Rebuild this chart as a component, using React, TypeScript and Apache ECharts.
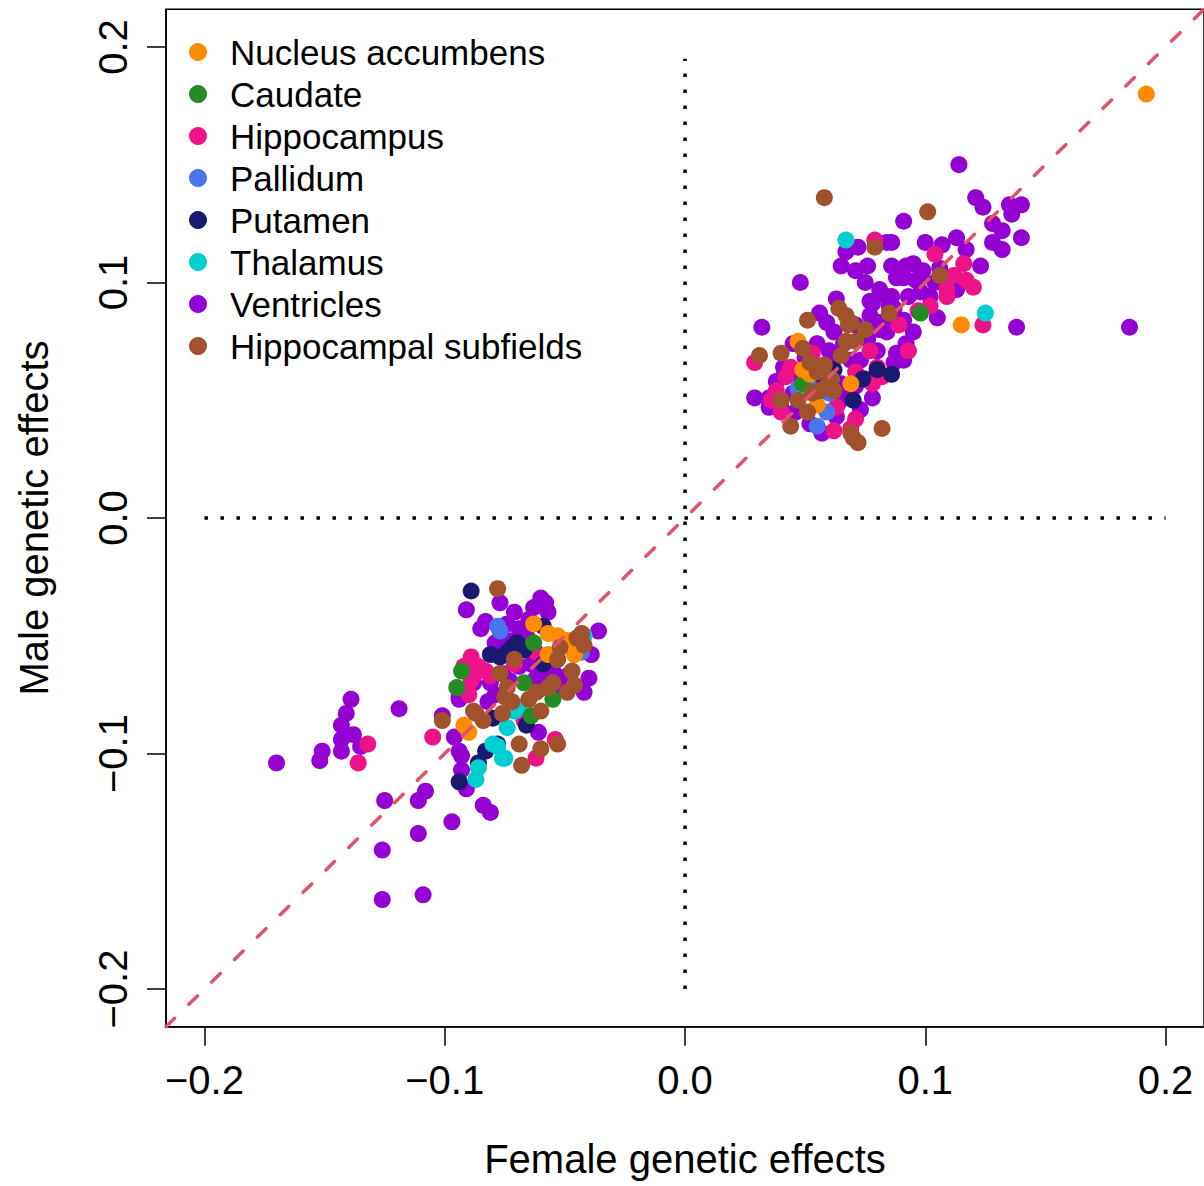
import React, { useEffect, useRef } from "react";
import * as echarts from "echarts";

const legendOrder = [
  "Nucleus accumbens",
  "Caudate",
  "Hippocampus",
  "Pallidum",
  "Putamen",
  "Thalamus",
  "Ventricles",
  "Hippocampal subfields",
];

const colorMap: Record<string, string> = {
  "Nucleus accumbens": "#FF8C00",
  Caudate: "#228B22",
  Hippocampus: "#EE1289",
  Pallidum: "#4876EE",
  Putamen: "#191970",
  Thalamus: "#00CED1",
  Ventricles: "#9400D3",
  "Hippocampal subfields": "#A0522D",
};

// draw order (later = on top)
const drawOrder = [
  "Ventricles",
  "Hippocampus",
  "Putamen",
  "Pallidum",
  "Thalamus",
  "Caudate",
  "Nucleus accumbens",
  "Hippocampal subfields",
];

const tickValues = [-0.2, -0.1, 0.0, 0.1, 0.2];

const nucleusAccumbens = [
  [0.192, 0.18], [0.115, 0.082], [0.047, 0.075], [0.069, 0.057], [0.049, 0.063], [0.055, 0.048], [0.052, 0.061],
  [-0.063, -0.045], [-0.057, -0.049], [-0.053, -0.05], [-0.049, -0.052], [-0.057, -0.058], [-0.053, -0.06],
  [-0.046, -0.058], [-0.092, -0.088], [-0.09, -0.091],
];

const caudate = [
  [0.098, 0.087], [0.049, 0.057],
  [-0.063, -0.053], [-0.093, -0.065], [-0.095, -0.072], [-0.067, -0.07], [-0.055, -0.077], [-0.064, -0.084],
];

const hippocampus = [
  [0.079, 0.118], [0.104, 0.112], [0.116, 0.108], [0.112, 0.103], [0.117, 0.101], [0.12, 0.098], [0.109, 0.097],
  [0.109, 0.094], [0.102, 0.09], [0.097, 0.088], [0.089, 0.082], [0.124, 0.082], [0.093, 0.071], [0.029, 0.066],
  [0.077, 0.071], [0.071, 0.062], [0.08, 0.064], [0.078, 0.057], [0.082, 0.06], [0.063, 0.047], [0.071, 0.042],
  [0.062, 0.037], [0.069, 0.038], [0.038, 0.054], [0.042, 0.06], [0.04, 0.045], [0.053, 0.07], [0.044, 0.064],
  [0.036, 0.05],
  [-0.089, -0.059], [-0.092, -0.063], [-0.088, -0.067], [-0.09, -0.075], [-0.089, -0.069], [-0.083, -0.065],
  [-0.081, -0.067], [-0.062, -0.057], [-0.071, -0.062], [-0.132, -0.096], [-0.136, -0.104], [-0.105, -0.093],
  [-0.062, -0.102], [-0.054, -0.094], [-0.067, -0.086], [-0.086, -0.063],
];

const pallidum = [
  [0.047, 0.055], [0.059, 0.045], [0.055, 0.039], [0.06, 0.053], [0.051, 0.057],
  [-0.078, -0.046], [-0.077, -0.048], [-0.043, -0.057], [-0.045, -0.054],
];

const putamen = [
  [0.062, 0.063], [0.074, 0.059], [0.086, 0.061], [0.07, 0.05], [0.08, 0.063], [0.057, 0.061],
  [-0.089, -0.031], [-0.081, -0.058], [-0.077, -0.059], [-0.072, -0.055], [-0.067, -0.056], [-0.059, -0.046],
  [-0.059, -0.062], [-0.07, -0.053], [-0.066, -0.088], [-0.083, -0.099], [-0.086, -0.104], [-0.078, -0.096],
  [-0.094, -0.112], [-0.08, -0.085], [-0.074, -0.057],
];

const thalamus = [
  [0.067, 0.118], [0.125, 0.087], [0.05, 0.054],
  [-0.08, -0.096], [-0.075, -0.102], [-0.086, -0.106], [-0.087, -0.111], [-0.071, -0.082], [-0.074, -0.089],
  [-0.069, -0.08], [-0.076, -0.102], [-0.042, -0.05], [-0.078, -0.097],
];

const ventricles = [
  [0.114, 0.15], [0.121, 0.136], [0.124, 0.132], [0.135, 0.133], [0.14, 0.133], [0.136, 0.129], [0.128, 0.125],
  [0.132, 0.122], [0.14, 0.119], [0.128, 0.117], [0.132, 0.114], [0.091, 0.126], [0.1, 0.117], [0.107, 0.116],
  [0.113, 0.119], [0.117, 0.114], [0.123, 0.107], [0.138, 0.081], [0.185, 0.081], [0.048, 0.1], [0.063, 0.093],
  [0.084, 0.117], [0.086, 0.117], [0.067, 0.113], [0.072, 0.115], [0.065, 0.107], [0.076, 0.107], [0.071, 0.105],
  [0.075, 0.1], [0.081, 0.097], [0.086, 0.107], [0.092, 0.107], [0.095, 0.108], [0.099, 0.105], [0.088, 0.102],
  [0.091, 0.102], [0.096, 0.101], [0.098, 0.102], [0.104, 0.1], [0.106, 0.106], [0.113, 0.097], [0.077, 0.092],
  [0.056, 0.087], [0.059, 0.083], [0.032, 0.081], [0.084, 0.094], [0.086, 0.094], [0.093, 0.094], [0.085, 0.09],
  [0.091, 0.084], [0.086, 0.084], [0.081, 0.08], [0.105, 0.085], [0.095, 0.079], [0.078, 0.091], [0.081, 0.083],
  [0.084, 0.079], [0.092, 0.074], [0.088, 0.07], [0.091, 0.067], [0.087, 0.066], [0.08, 0.071], [0.073, 0.067],
  [0.069, 0.067], [0.045, 0.074], [0.041, 0.064], [0.041, 0.06], [0.029, 0.051], [0.035, 0.047], [0.04, 0.047],
  [0.046, 0.045], [0.052, 0.04], [0.057, 0.036], [0.078, 0.051], [0.064, 0.049], [0.063, 0.043], [0.075, 0.059],
  [0.071, 0.056], [0.035, 0.051], [0.06, 0.071], [0.055, 0.074], [0.05, 0.068], [0.058, 0.06], [0.065, 0.057],
  [0.048, 0.06], [0.038, 0.058], [0.068, 0.052], [0.073, 0.046], [0.052, 0.057], [0.045, 0.053], [0.061, 0.066],
  [0.066, 0.074], [0.076, 0.076], [0.071, 0.082], [0.062, 0.079], [0.087, 0.089], [0.098, 0.096], [0.102, 0.094],
  [0.11, 0.1], [0.077, 0.086],
  [-0.091, -0.039], [-0.139, -0.077], [-0.141, -0.083], [-0.119, -0.081], [-0.101, -0.084], [-0.094, -0.076],
  [-0.143, -0.088], [-0.17, -0.104], [-0.151, -0.099], [-0.152, -0.103], [-0.143, -0.094], [-0.143, -0.099],
  [-0.138, -0.092], [-0.135, -0.097], [-0.096, -0.093], [-0.094, -0.099], [-0.093, -0.101], [-0.093, -0.107],
  [-0.091, -0.115], [-0.125, -0.12], [-0.111, -0.12], [-0.108, -0.116], [-0.097, -0.129], [-0.084, -0.122],
  [-0.081, -0.125], [-0.111, -0.134], [-0.126, -0.141], [-0.126, -0.162], [-0.109, -0.16], [-0.061, -0.091],
  [-0.077, -0.036], [-0.071, -0.04], [-0.06, -0.034], [-0.063, -0.038], [-0.057, -0.04], [-0.083, -0.044],
  [-0.074, -0.045], [-0.069, -0.047], [-0.036, -0.048], [-0.04, -0.068], [-0.042, -0.074], [-0.069, -0.05],
  [-0.074, -0.052], [-0.079, -0.053], [-0.085, -0.047], [-0.069, -0.063], [-0.064, -0.062], [-0.076, -0.066],
  [-0.081, -0.07], [-0.088, -0.07], [-0.094, -0.077], [-0.082, -0.078], [-0.049, -0.067], [-0.051, -0.073],
  [-0.059, -0.066], [-0.061, -0.073], [-0.065, -0.043], [-0.058, -0.036], [-0.066, -0.05], [-0.062, -0.068],
  [-0.055, -0.065], [-0.039, -0.058], [-0.079, -0.075], [-0.073, -0.069],
];

const hippocampalSubfields = [
  [0.058, 0.136], [0.101, 0.13], [0.079, 0.115], [0.106, 0.103], [0.085, 0.087], [0.064, 0.089], [0.067, 0.086],
  [0.069, 0.083], [0.051, 0.084], [0.075, 0.08], [0.031, 0.069], [0.04, 0.07], [0.049, 0.072], [0.067, 0.075],
  [0.071, 0.075], [0.065, 0.069], [0.052, 0.066], [0.058, 0.065], [0.055, 0.062], [0.062, 0.054], [0.056, 0.054],
  [0.053, 0.053], [0.047, 0.05], [0.04, 0.05], [0.051, 0.045], [0.044, 0.039], [0.082, 0.038], [0.07, 0.034],
  [0.072, 0.032], [0.069, 0.036], [0.059, 0.056], [0.061, 0.059], [0.068, 0.082],
  [-0.087, -0.083], [-0.101, -0.086], [-0.078, -0.03], [-0.043, -0.049], [-0.042, -0.054], [-0.052, -0.055],
  [-0.053, -0.06], [-0.071, -0.06], [-0.077, -0.066], [-0.047, -0.065], [-0.046, -0.071], [-0.049, -0.074],
  [-0.055, -0.07], [-0.057, -0.072], [-0.062, -0.074], [-0.065, -0.077], [-0.074, -0.072], [-0.075, -0.076],
  [-0.072, -0.078], [-0.088, -0.082], [-0.076, -0.083], [-0.06, -0.082], [-0.084, -0.086], [-0.069, -0.096],
  [-0.06, -0.098], [-0.053, -0.096], [-0.068, -0.105], [-0.045, -0.051],
];

const seriesData: Record<string, number[][]> = {
  "Nucleus accumbens": nucleusAccumbens,
  Caudate: caudate,
  Hippocampus: hippocampus,
  Pallidum: pallidum,
  Putamen: putamen,
  Thalamus: thalamus,
  Ventricles: ventricles,
  "Hippocampal subfields": hippocampalSubfields,
};

const axisMin = -0.216;
const axisMax = 0.216;
const identityLine = [[axisMin, axisMin], [axisMax, axisMax]];
const vRefLine = [[0, -0.2], [0, 0.195]];
const hRefLine = [[-0.2, 0], [0.2, 0]];

const FONT = "'Liberation Sans', Arial, Helvetica, sans-serif";
const fmt = (v: number) => v.toFixed(1).replace("-", "\u2212");

export default function App() {
  const ref = useRef<HTMLDivElement>(null);
  useEffect(() => {
    const chart = echarts.init(ref.current!, null, { renderer: "svg" });
    const axisCommon = (name: string) => ({
      type: "value",
      min: axisMin,
      max: axisMax,
      name,
      nameLocation: "middle",
      nameGap: 112,
      nameTextStyle: { fontSize: 40, color: "#000", fontFamily: FONT },
      axisLine: { show: true, onZero: false, lineStyle: { color: "#000", width: 1.5 } },
      axisTick: { show: true, length: 19, customValues: tickValues, lineStyle: { color: "#000", width: 1.5 } },
      axisLabel: {
        customValues: tickValues,
        formatter: fmt,
        fontSize: 40,
        color: "#000",
        fontFamily: FONT,
        margin: 33,
      },
      splitLine: { show: false },
    });
    const refLine = (data: number[][], style: any) => ({
      type: "line",
      data,
      symbol: "none",
      silent: true,
      lineStyle: style,
      emphasis: { disabled: true },
    });
    chart.setOption({
      animation: false,
      backgroundColor: "#fff",
      grid: {
        left: 166,
        top: 9.3,
        width: 1038,
        height: 1017.4,
        show: true,
        borderColor: "#000",
        borderWidth: 1.5,
        backgroundColor: "transparent",
      },
      xAxis: axisCommon("Female genetic effects"),
      yAxis: {
        ...axisCommon("Male genetic effects"),
        axisLabel: {
          customValues: tickValues,
          formatter: fmt,
          fontSize: 40,
          color: "#000",
          fontFamily: FONT,
          margin: 33,
          rotate: 90,
        },
      },
      legend: {
        data: legendOrder,
        orient: "vertical",
        left: 189,
        top: 34.5,
        padding: 0,
        itemWidth: 18,
        itemHeight: 18,
        itemGap: 7,
        icon: "circle",
        selectedMode: false,
        textStyle: { fontSize: 35, color: "#000", fontFamily: FONT, padding: [0, 0, 0, 18] },
      },
      series: [
        refLine(hRefLine, { color: "#000", width: 3.5, type: [3.5, 12.5] }),
        refLine(vRefLine, { color: "#000", width: 3.5, type: [3.5, 12.5] }),
        refLine(identityLine, { color: "#DF536B", width: 3.5, type: [12, 20], cap: "round" }),
        ...drawOrder.map((name) => ({
          type: "scatter",
          name,
          data: seriesData[name],
          symbol: "circle",
          symbolSize: 17,
          itemStyle: { color: colorMap[name], opacity: 1 },
          emphasis: { disabled: true },
        })),
      ],
    });
    return () => chart.dispose();
  }, []);
  return (
    <div
      ref={ref}
      style={{ position: "absolute", left: 0, top: 0, width: 1204, height: 1186 }}
    />
  );
}
